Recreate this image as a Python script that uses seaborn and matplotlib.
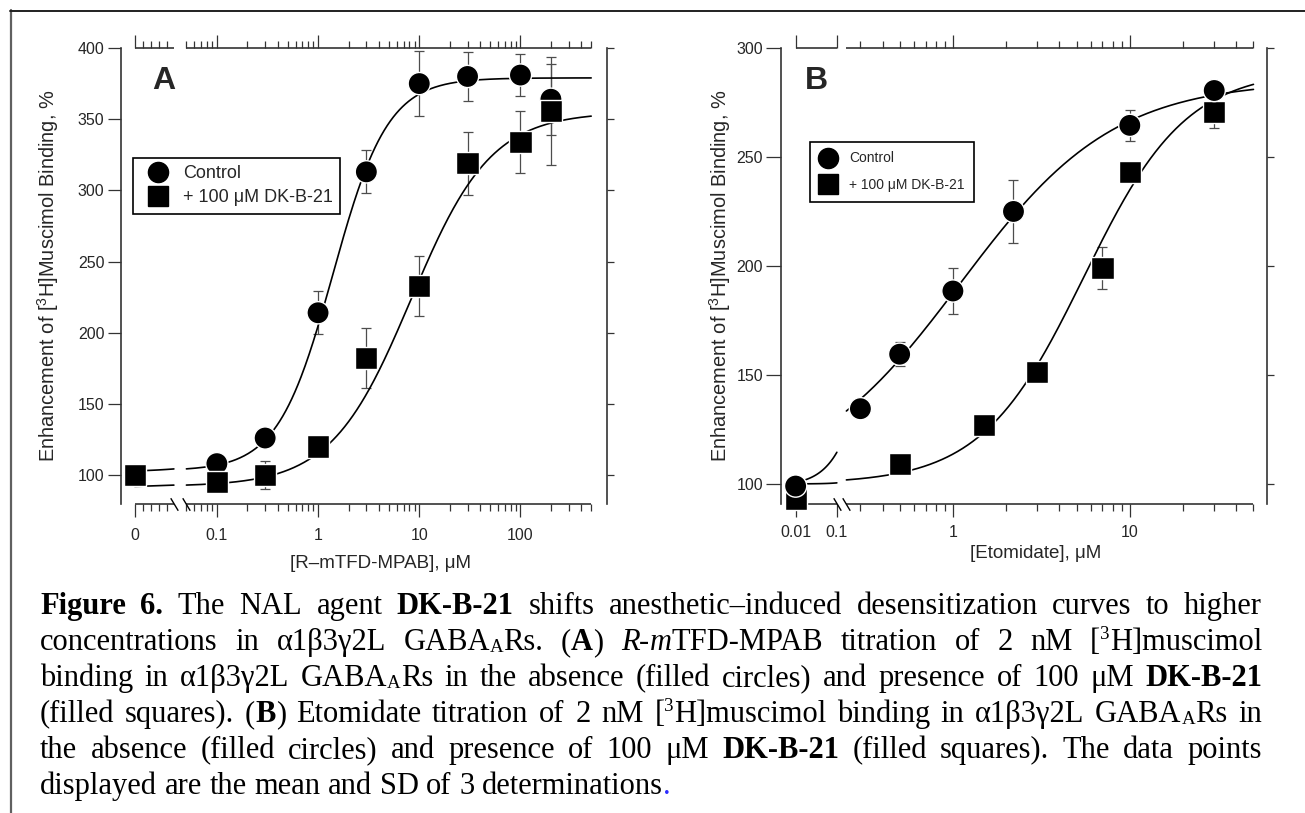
import re
import numpy as np
import pandas as pd
import seaborn as sns
import matplotlib.pyplot as plt
import matplotlib.transforms as mtransforms
from matplotlib.lines import Line2D
from matplotlib.path import Path

# ---- data ----
# Panel A: R-mTFD-MPAB (uM); 0 = no drug
a_conc = [0, 0.1, 0.3, 1, 3, 10, 30, 100, 200]
a_ctrl = [100, 108, 126, 214, 313, 375, 380, 381, 364]
a_ctrl_sd = [0, 3, 4, 15, 15, 23, 17, 15, 25]
a_dk = [100, 95, 100, 120, 182, 233, 319, 334, 356]
a_dk_sd = [0, 4, 10, 5, 21, 21, 22, 22, 38]

# Panel B: etomidate (uM)
b_conc_ctrl = [0.01, 0.3, 0.5, 1, 2.2, 10, 30]
b_ctrl = [99, 134.5, 159.5, 188.5, 225, 264.5, 280.5]
b_ctrl_sd = [0, 3, 5.5, 10.5, 14.5, 7, 3]
b_conc_dk = [0.01, 0.5, 1.5, 3, 7, 10, 30]
b_dk = [93, 109, 127, 151.5, 199, 243, 270.5]
b_dk_sd = [0, 3, 3, 3, 9.5, 4, 7]

# fitted Hill curves: (bottom, top, EC50, nH)
a_fit_ctrl = (103, 379, 1.4, 1.6)
a_fit_dk = (92, 355, 8.3, 1.1)
b_fit_ctrl = (99, 285, 1.1, 1.0)
b_fit_dk = (100, 290, 5.5, 1.5)

a_ticks = [0, 0.1, 1, 10, 100]
a_ticklabels = ['0', '0.1', '1', '10', '100']
b_ticks = [0.01, 0.1, 1, 10]
b_ticklabels = ['0.01', '0.1', '1', '10']

legend_labels = ['Control', '+ 100 μM DK-B-21']

caption = [
    "**Figure 6.** The NAL agent **DK-B-21** shifts anesthetic–induced desensitization curves to higher",
    "concentrations in α1β3γ2L GABA_{A}Rs. (**A**) *R*-*m*TFD-MPAB titration of 2 nM [^{3}H]muscimol",
    "binding in α1β3γ2L GABA_{A}Rs in the absence (filled circles) and presence of 100 μM **DK-B-21**",
    "(filled squares). (**B**) Etomidate titration of 2 nM [^{3}H]muscimol binding in α1β3γ2L GABA_{A}Rs in",
    "the absence (filled circles) and presence of 100 μM **DK-B-21** (filled squares). The data points",
    "displayed are the mean and SD of 3 determinations~{.}",
]


def hill(x, p):
    bottom, top, ec50, n = p
    x = np.asarray(x, dtype=float)
    return bottom + (top - bottom) * x**n / (x**n + ec50**n)


# broken x axes: a short linear "0" segment + log axis (A), compressed decade + log axis (B)
def fwd_a(x):
    x = np.asarray(x, dtype=float)
    lin = -1.812 + 7.9 * x
    mid = -1.4249 + (x - 0.049) * (np.log10(0.05) + 1.4249) / 0.001
    lg = np.log10(np.clip(x, 0.05, None))
    return np.where(x <= 0.049, lin, np.where(x < 0.05, mid, lg))


def inv_a(u):
    u = np.asarray(u, dtype=float)
    lin = (u + 1.812) / 7.9
    mid = 0.049 + (u + 1.4249) * 0.001 / (np.log10(0.05) + 1.4249)
    lg = 10 ** np.clip(u, -3, 5)
    return np.where(u <= -1.4249, lin, np.where(u < np.log10(0.05), mid, lg))


def fwd_b(x):
    x = np.asarray(x, dtype=float)
    lx = np.log10(np.clip(x, 1e-6, None))
    left = -0.889 + (lx + 2) * 0.233
    mid = -0.656 + (x - 0.1) * (np.log10(0.25) + 0.656) / 0.15
    return np.where(x <= 0.1, left, np.where(x < 0.25, mid, lx))


def inv_b(u):
    u = np.asarray(u, dtype=float)
    left = 10 ** np.clip(-2 + (u + 0.889) / 0.233, -8, 8)
    mid = 0.1 + (u + 0.656) * 0.15 / (np.log10(0.25) + 0.656)
    lg = 10 ** np.clip(u, -3, 5)
    return np.where(u <= -0.656, left, np.where(u < np.log10(0.25), mid, lg))


sns.set_style("ticks")
plt.rcParams['font.family'] = ['Liberation Sans', 'DejaVu Sans']
plt.rcParams['mathtext.default'] = 'regular'

W, H = 1305, 813
fig = plt.figure(figsize=(W / 100, H / 100), dpi=100)
axA = fig.add_axes([120.8 / W, 1 - 503.5 / H, 486.1 / W, 455.5 / H])
axB = fig.add_axes([781.3 / W, 1 - 503.5 / H, 485.4 / W, 455.5 / H])

spine_c = '#333333'
slash = Path([(-0.3, 0.5), (0.3, -0.5)])


def style_panel(ax, fwd, inv, xlim, ylim, yticks, major, labels, minor,
                segments, gap, ylab_len, xpad):
    ax.set_xscale('function', functions=(fwd, inv))
    ax.set_xlim(*xlim)
    ax.set_ylim(*ylim)
    ax.set_yticks(yticks)
    ax.set_xticks(major, labels=labels)
    ax.set_xticks(minor, minor=True)
    for s in ['top', 'bottom', 'right']:
        ax.spines[s].set_visible(False)
    ax.spines['left'].set_color(spine_c)
    ax.spines['left'].set_linewidth(1.2)
    ax.tick_params(axis='x', which='both', bottom=True, top=True, labeltop=False,
                   direction='out', color=spine_c, width=0.9, labelsize=11.5, pad=xpad)
    ax.tick_params(axis='x', which='major', length=9.5)
    ax.tick_params(axis='x', which='minor', length=4.8)
    ax.tick_params(axis='y', which='major', left=True, right=False, length=ylab_len,
                   width=0.9, color=spine_c, labelsize=11.5, pad=2)
    ax.tick_params(axis='y', which='minor', left=False, right=False)
    trans = ax.get_xaxis_transform()
    for lo, hi in segments:
        for yy in (0, 1):
            ax.plot([lo, hi], [yy, yy], transform=trans, color=spine_c, lw=1.2,
                    clip_on=False, solid_capstyle='butt', zorder=1)
    ax.plot(gap, [0, 0], transform=trans, ls='none', marker=slash, markersize=9,
            markeredgewidth=1.0, color='black', clip_on=False)
    sec = ax.secondary_yaxis('right')
    sec.set_yticks(yticks)
    sec.tick_params(axis='y', length=5, width=0.9, color=spine_c, labelright=False)
    sec.spines['right'].set_color(spine_c)
    sec.spines['right'].set_linewidth(1.2)


a_minor = [0.01, 0.02, 0.03, 0.04] + [k * 10.0 ** e for e in (-2, -1, 0, 1) for k in range(2, 10)
                                      if k * 10.0 ** e >= 0.05] + [200, 300, 400, 500]
style_panel(axA, fwd_a, inv_a, (-0.0174, 715), (80, 400), [100, 150, 200, 250, 300, 350, 400],
            a_ticks, a_ticklabels, a_minor, [(0, 0.049), (0.05, 500)], [0.049, 0.05], 9.7, 8)

b_minor = [k * 10.0 ** e for e in (-1, 0) for k in range(3, 10)] + \
          [k for k in range(2, 10)] + [20, 30, 40, 50]
b_minor = sorted(set(b_minor) - {1, 10})
style_panel(axB, fwd_b, inv_b, (0.00449, 59.4), (91, 300), [100, 150, 200, 250, 300],
            b_ticks, b_ticklabels, b_minor, [(0.01, 0.1), (0.25, 50)], [0.1, 0.25], 11, 6)

# ---- data ----
df_a = pd.DataFrame({'conc': a_conc + a_conc, 'value': a_ctrl + a_dk,
                     'sd': a_ctrl_sd + a_dk_sd,
                     'cond': ['Control'] * len(a_conc) + ['DK'] * len(a_conc)})
df_b = pd.DataFrame({'conc': b_conc_dk + b_conc_ctrl, 'value': b_dk + b_ctrl,
                     'sd': b_dk_sd + b_ctrl_sd,
                     'cond': ['DK'] * len(b_conc_dk) + ['Control'] * len(b_conc_ctrl)})

panels = [
    (axA, df_a, [a_fit_ctrl, a_fit_dk], [np.linspace(0, 0.049, 40),
                                         np.logspace(np.log10(0.05), np.log10(500), 400)]),
    (axB, df_b, [b_fit_ctrl, b_fit_dk], [np.logspace(-2, -1, 60),
                                         np.logspace(np.log10(0.25), np.log10(50), 400)]),
]
for ax, df, fits, grids in panels:
    for p in fits:
        for g in grids:
            ax.plot(g, hill(g, p), color='black', lw=1.2, zorder=3, clip_on=False)
    ax.errorbar(df['conc'], df['value'], yerr=df['sd'], fmt='none', ecolor='#4d4d4d',
                elinewidth=0.9, capsize=3.8, capthick=0.9, zorder=2, clip_on=False)
    sns.scatterplot(data=df, x='conc', y='value', style='cond',
                    markers={'Control': 'o', 'DK': 's'}, color='black', s=256,
                    edgecolor='white', linewidth=1.0, legend=False, ax=ax,
                    zorder=4, clip_on=False)

ylab = 'Enhancement of [$^{3}$H]Muscimol Binding, %'
axA.set_ylabel(ylab, fontsize=14.4)
axB.set_ylabel(ylab, fontsize=14.4)
axA.yaxis.set_label_coords(-0.122, 0.5)
axB.yaxis.set_label_coords(-0.099, 0.5)
axA.set_xlabel('[R–mTFD-MPAB], μM', fontsize=13.5)
axB.set_xlabel('[Etomidate], μM', fontsize=13.5)
axA.xaxis.set_label_coords(0.534, -0.113)
axB.xaxis.set_label_coords(0.5235, -0.091)

axA.text(0.0889, 0.9265, 'A', transform=axA.transAxes, fontsize=23, fontweight='bold',
         ha='center', va='center')
axB.text(0.0715, 0.927, 'B', transform=axB.transAxes, fontsize=23, fontweight='bold',
         ha='center', va='center')


def make_legend(ax, x0, y0, fs, bp, hl, tp, ls, ms):
    handles = [Line2D([], [], marker='o', ls='none', color='black', markersize=ms),
               Line2D([], [], marker='s', ls='none', color='black', markersize=ms - 0.8)]
    leg = ax.legend(handles, legend_labels, loc='upper left',
                    bbox_to_anchor=(x0 / W, 1 - y0 / H), bbox_transform=fig.transFigure,
                    borderaxespad=0, frameon=True, fancybox=False, edgecolor='black',
                    framealpha=1, fontsize=fs, borderpad=bp, handlelength=hl,
                    handletextpad=tp, labelspacing=ls, numpoints=1)
    leg.get_frame().set_linewidth(1.2)


make_legend(axA, 133, 158, 13, 0.4, 1.98, 0.4, 0.4, 14.5)
make_legend(axB, 810, 142, 10, 0.68, 1.24, 0.89, 0.92, 14.5)

# ---- frame lines of the page ----
fig.add_artist(Line2D([11 / W, 11 / W], [0, 1 - 10 / H], transform=fig.transFigure,
                      color='#606060', lw=1.6))
fig.add_artist(Line2D([10 / W, 1], [1 - 11 / H, 1 - 11 / H], transform=fig.transFigure,
                      color='#202020', lw=1.4))

# ---- caption, justified ----
tok = re.compile(r'\*\*(.+?)\*\*|\*(.+?)\*|\^\{(.+?)\}|_\{(.+?)\}|~\{(.+?)\}|([^*^_~]+)')
styles = ['b', 'i', 'sup', 'sub', 'blue', 'n']


def parse(line):
    words = [[]]
    for m in tok.finditer(line):
        k = next(i for i, g in enumerate(m.groups()) if g is not None)
        parts = m.group(k + 1).split(' ')
        for j, p in enumerate(parts):
            if j > 0:
                words.append([])
            if p:
                words[-1].append((p, styles[k]))
    return [w for w in words if w]


cap_size = 22
cap_left, cap_right = 40, 1262
em = cap_size * 100 / 72
renderer = fig.canvas.get_renderer()
ident = mtransforms.IdentityTransform()
for i, line in enumerate(caption):
    words = parse(line)
    made = []
    for word in words:
        runs = []
        for text, st in word:
            kw = dict(fontsize=cap_size, family=['Liberation Serif', 'DejaVu Serif'],
                      color='black', va='baseline', ha='left')
            dy = 0
            if st == 'b':
                kw['fontweight'] = 'bold'
            elif st == 'i':
                kw['fontstyle'] = 'italic'
            elif st == 'sup':
                kw['fontsize'] = cap_size * 0.62
                dy = 0.36 * em
            elif st == 'sub':
                kw['fontsize'] = cap_size * 0.62
                dy = -0.08 * em
            elif st == 'blue':
                kw['color'] = '#2b2bff'
            t = fig.text(0, 0, text, transform=ident, **kw)
            runs.append((t, t.get_window_extent(renderer).width, dy))
        made.append(runs)
    widths = [sum(r[1] for r in runs) for runs in made]
    if i < len(caption) - 1:
        gap = (cap_right - cap_left - sum(widths)) / (len(made) - 1)
    else:
        gap = 0.25 * em
    x = cap_left
    base = H - (614 + 36 * i)
    for runs in made:
        for t, w, dy in runs:
            t.set_position((x, base + dy))
            x += w
        x += gap

fig.savefig('out.png', dpi=100)
